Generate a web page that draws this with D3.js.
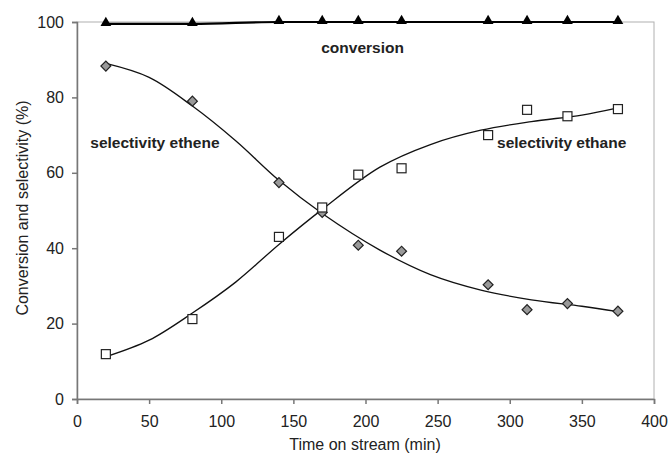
<!DOCTYPE html>
<html>
<head>
<meta charset="utf-8">
<script src="https://cdn.jsdelivr.net/npm/d3@7"></script>
<style>
body { margin: 0; background: #fff; }
text { font-family: "Liberation Sans", Arial, sans-serif; fill: #222; }
</style>
</head>
<body>
<div id="chart"></div>
<script>
// measured points
var time = [20, 80, 140, 170, 195, 225, 285, 312, 340, 375];
var conversion = [99.5, 99.5, 100, 100, 100, 100, 100, 100, 100, 100];
var ethene = [88.3, 79, 57.4, 49.5, 40.8, 39.2, 30.3, 23.7, 25.3, 23.3];
var ethane = [11.9, 21.2, 43, 50.8, 59.5, 61.2, 70, 76.7, 75, 76.9];

// trend lines
var fitTime = [20, 50, 80, 110, 140, 170, 210, 245, 280, 315, 350, 375];
var fitEthene = [89, 85.3, 77.7, 68.5, 58, 49.2, 39.5, 33, 28.9, 26.3, 24.6, 23.2];
var fitEthane = [11.2, 15.6, 22.8, 31, 41, 50.3, 61.5, 67.5, 71.3, 73.6, 75.3, 77.2];

var xTicks = [0, 50, 100, 150, 200, 250, 300, 350, 400];
var yTicks = [0, 20, 40, 60, 80, 100];

var width = 669, height = 457;
var margin = {left: 77, right: 15, top: 22, bottom: 58};

var svg = d3.select('#chart')
    .append('svg')
    .attr('width', width)
    .attr('height', height);

var x = d3.scaleLinear().domain([0, 400]).range([margin.left, width - margin.right]);
var y = d3.scaleLinear().domain([0, 100]).range([height - margin.bottom, margin.top]);

// frame
svg.append('rect')
    .attr('x', x(0))
    .attr('y', y(100))
    .attr('width', x(400) - x(0))
    .attr('height', y(0) - y(100))
    .attr('fill', 'none')
    .attr('stroke', '#b0b0b0')
    .attr('stroke-width', 1);

// axes
var xAxis = svg.append('g')
    .attr('transform', 'translate(0,' + y(0) + ')')
    .call(d3.axisBottom(x).tickValues(xTicks).tickSize(5).tickPadding(12));
var yAxis = svg.append('g')
    .attr('transform', 'translate(' + x(0) + ',0)')
    .call(d3.axisLeft(y).tickValues(yTicks).tickSize(5).tickPadding(8));

[xAxis, yAxis].forEach(function (a) {
    a.select('.domain').attr('stroke', '#777').attr('stroke-width', 1.5);
    a.selectAll('.tick line').attr('stroke', '#777').attr('stroke-width', 1.5);
    a.selectAll('.tick text').style('font-size', '16px').attr('fill', '#222');
});

// axis titles
svg.append('text')
    .attr('x', 365)
    .attr('y', 450)
    .attr('text-anchor', 'middle')
    .style('font-size', '16px')
    .text('Time on stream (min)');

svg.append('text')
    .attr('transform', 'translate(22,208) rotate(-90)')
    .attr('text-anchor', 'middle')
    .attr('dy', '0.35em')
    .style('font-size', '16px')
    .text('Conversion and selectivity (%)');

// lines
var line = d3.line()
    .x(d => x(d[0]))
    .y(d => y(d[1]))
    .curve(d3.curveCatmullRom.alpha(0.5));

svg.append('path')
    .attr('d', line(d3.zip(fitTime, fitEthene)))
    .attr('fill', 'none')
    .attr('stroke', '#111')
    .attr('stroke-width', 1.3);

svg.append('path')
    .attr('d', line(d3.zip(fitTime, fitEthane)))
    .attr('fill', 'none')
    .attr('stroke', '#111')
    .attr('stroke-width', 1.3);

svg.append('path')
    .attr('d', d3.line().x(d => x(d[0])).y(d => y(d[1])).curve(d3.curveMonotoneX)(d3.zip(time, conversion)))
    .attr('fill', 'none')
    .attr('stroke', '#000')
    .attr('stroke-width', 2.2);

// markers
var triangle = d3.symbol().type(d3.symbolTriangle).size(50);
svg.selectAll('.conv')
    .data(d3.zip(time, conversion))
    .enter()
    .append('path')
    .attr('d', triangle)
    .attr('transform', d => 'translate(' + x(d[0]) + ',' + (y(d[1]) - 1) + ')')
    .attr('fill', '#000');

svg.selectAll('.ethene')
    .data(d3.zip(time, ethene))
    .enter()
    .append('rect')
    .attr('x', -3.5)
    .attr('y', -3.5)
    .attr('width', 7)
    .attr('height', 7)
    .attr('transform', d => 'translate(' + x(d[0]) + ',' + y(d[1]) + ') rotate(45)')
    .attr('fill', '#999')
    .attr('stroke', '#222')
    .attr('stroke-width', 1.2);

svg.selectAll('.ethane')
    .data(d3.zip(time, ethane))
    .enter()
    .append('rect')
    .attr('x', d => x(d[0]) - 4.5)
    .attr('y', d => y(d[1]) - 4.5)
    .attr('width', 9)
    .attr('height', 9)
    .attr('fill', '#fff')
    .attr('stroke', '#222')
    .attr('stroke-width', 1.2);

// labels
var labels = [
    {text: 'conversion', t: 198, v: 93.3},
    {text: 'selectivity ethene', t: 54, v: 68},
    {text: 'selectivity ethane', t: 336, v: 68}
];
svg.selectAll('.lab')
    .data(labels)
    .enter()
    .append('text')
    .attr('x', d => x(d.t))
    .attr('y', d => y(d.v))
    .attr('text-anchor', 'middle')
    .attr('dy', '0.35em')
    .style('font-size', '15.5px')
    .style('font-weight', 'bold')
    .text(d => d.text);
</script>
</body>
</html>
